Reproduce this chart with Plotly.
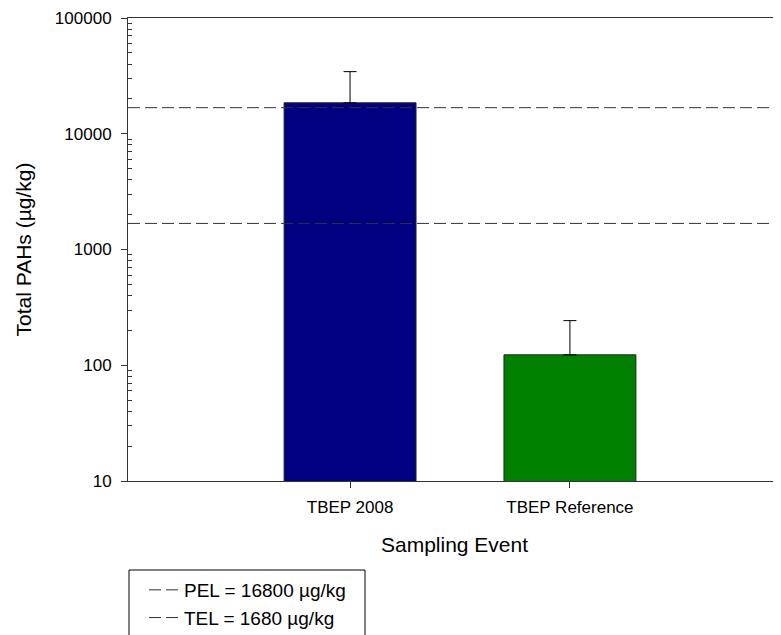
import plotly.graph_objects as go

categories = ["TBEP 2008", "TBEP Reference"]
pahs_mean = [18500, 123]
pahs_err = [15900, 120]
bar_colors = ["#000080", "#008000"]
guideline_names = ["PEL = 16800 µg/kg", "TEL = 1680 µg/kg"]
guideline_values = [16800, 1680]

x_pos = list(range(len(categories)))
x_range = [-1.01, 1.96]

fig = go.Figure()
fig.add_trace(go.Bar(
    x=x_pos, y=pahs_mean, width=0.6,
    marker=dict(color=bar_colors, line=dict(color="#222222", width=1)),
    error_y=dict(type="data", array=pahs_err, arrayminus=[0, 0], symmetric=False,
                 color="black", thickness=1, width=6.5),
    showlegend=False,
))
for name, val in zip(guideline_names, guideline_values):
    fig.add_trace(go.Scatter(
        x=x_range, y=[val, val], mode="lines", name=name,
        line=dict(color="#333333", width=1, dash="12px,5px"),
    ))

font_family = "Liberation Sans, Arial, sans-serif"
fig.update_layout(
    width=773, height=627,
    margin=dict(l=120, r=0, t=10, b=154, autoexpand=False),
    plot_bgcolor="white", paper_bgcolor="white",
    font=dict(family=font_family, size=17, color="black"),
    xaxis=dict(
        range=x_range, tickvals=x_pos, ticktext=categories,
        showgrid=False, zeroline=False, automargin=False,
        showline=True, linecolor="#333333", linewidth=1, mirror=True,
        ticks="outside", ticklen=6, tickcolor="#333333",
        ticklabelstandoff=5,
        title=dict(text="Sampling Event", font=dict(size=21), standoff=20),
    ),
    yaxis=dict(
        type="log", range=[1, 5], automargin=False,
        tickvals=[10, 100, 1000, 10000, 100000],
        ticktext=["10", "100", "1000", "10000", "100000"],
        showgrid=False, zeroline=False,
        showline=True, linecolor="#333333", linewidth=1,
        ticks="outside", ticklen=6, tickcolor="#333333",
        ticklabelstandoff=6,
        minor=dict(
            tickvals=[m * 10 ** e for e in range(1, 5) for m in range(2, 10)],
            ticks="inside", ticklen=4, tickcolor="#333333", showgrid=False,
        ),
        title=dict(text="Total PAHs (µg/kg)", font=dict(size=21), standoff=17),
    ),
    legend=dict(
        x=(144 - 128) / 653, y=(481 - 571) / 463, xanchor="left", yanchor="top",
        bgcolor="rgba(0,0,0,0)", borderwidth=0,
        font=dict(size=19), tracegroupgap=0,
    ),
    shapes=[dict(
        type="rect", xref="paper", yref="paper",
        x0=(129 - 128) / 653, x1=(365 - 128) / 653,
        y0=(481 - 570) / 463, y1=(481 - 700) / 463,
        line=dict(color="black", width=1), fillcolor="rgba(0,0,0,0)",
    )],
)

fig.write_html("out.html")
